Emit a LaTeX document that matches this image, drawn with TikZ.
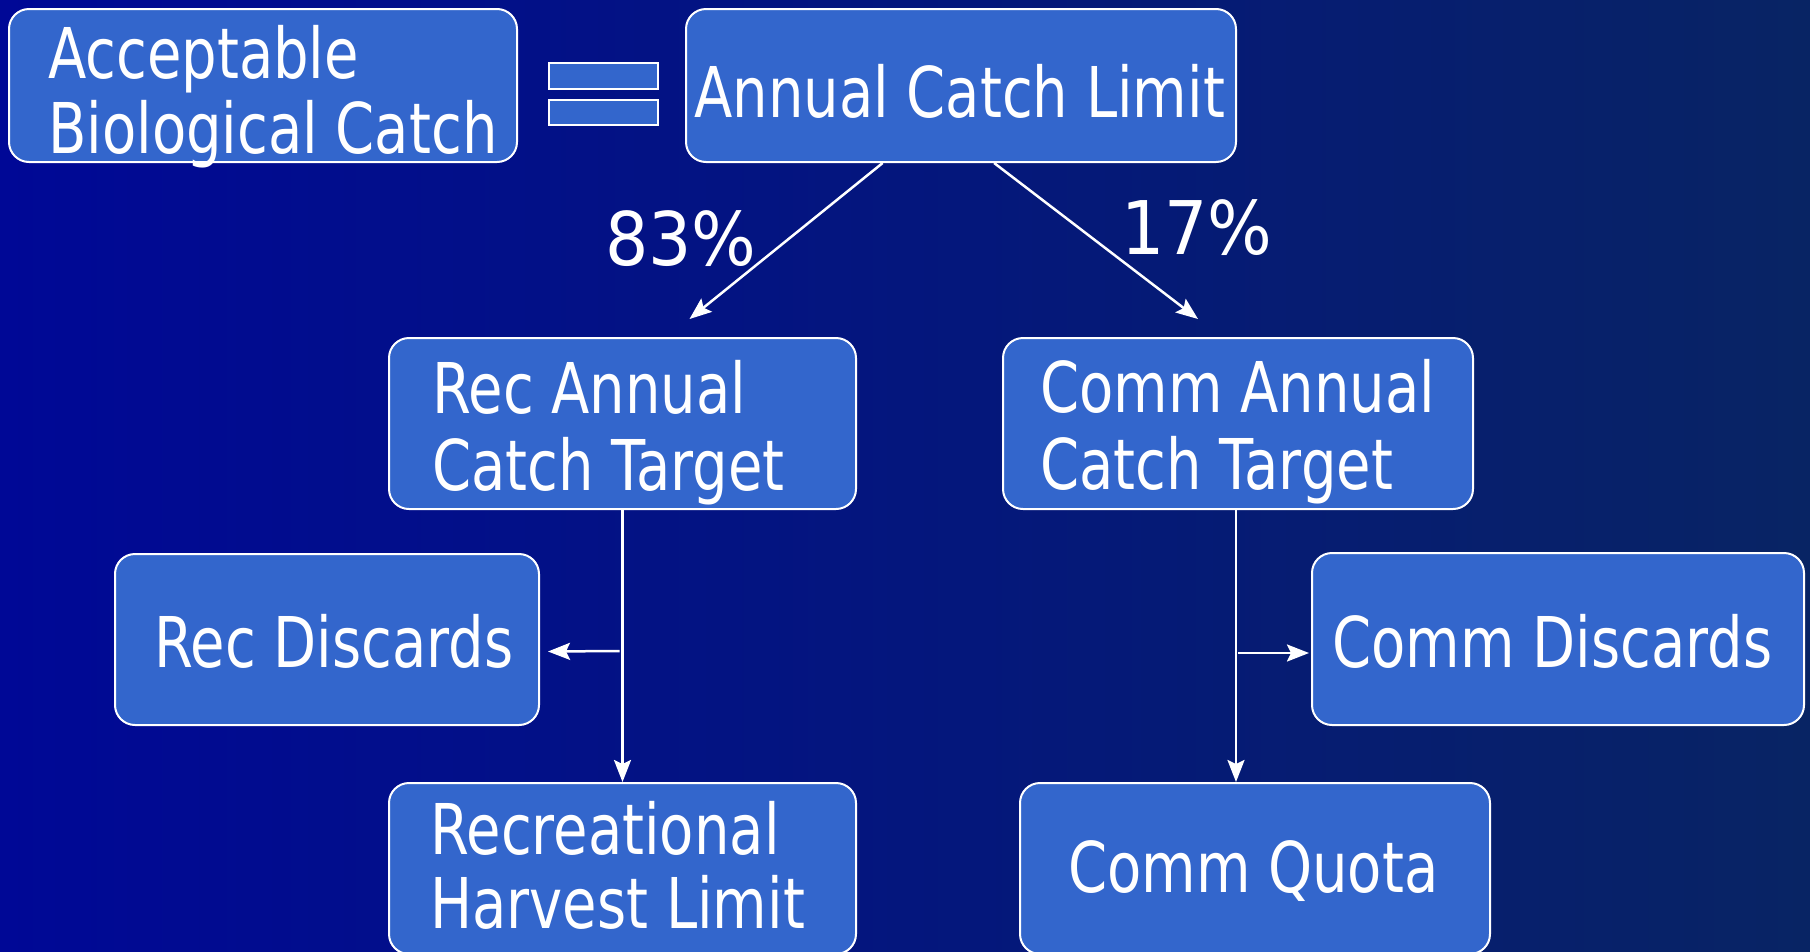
\documentclass[tikz,border=0pt]{standalone}
\usepackage{fontspec}
\usetikzlibrary{calc,arrows.meta}
\newfontfamily\tah[FakeStretch=0.8]{DejaVu Sans}
\newfontfamily\tahB[FakeStretch=0.92]{DejaVu Sans}
\definecolor{bgL}{RGB}{0,8,150}
\definecolor{bgR}{RGB}{8,36,100}
\definecolor{boxfill}{RGB}{51,102,204}
\tikzset{
  box/.style={draw=white, line width=2pt, fill=boxfill, rounded corners=20pt, inner sep=0pt},
  eqbar/.style={draw=white, line width=2pt, fill=boxfill, inner sep=0pt},
  txt/.style={text=white, inner sep=0pt, anchor=base west, font=\tah\fontsize{70}{77}\selectfont},
  pct/.style={text=white, inner sep=0pt, anchor=base west, font=\tahB\fontsize{74}{80}\selectfont},
  arr/.style={draw=white, line width=2.5pt, -{Stealth[length=22pt,width=17pt,inset=4pt]}}
}
\begin{document}
\begin{tikzpicture}[x=1pt,y=-1pt]
\useasboundingbox (0,0) rectangle (1810,951);
\shade[left color=bgL, right color=bgR] (0,0) rectangle (1810,951);

% boxes
\node[box, minimum width=508pt, minimum height=153pt] (abc)  at (263,85.5) {};
\node[box, minimum width=550pt, minimum height=153pt] (acl)  at (961,85.5) {};
\node[box, minimum width=467pt, minimum height=171pt] (ract) at (622.5,423.5) {};
\node[box, minimum width=470pt, minimum height=171pt] (cact) at (1238,423.5) {};
\node[box, minimum width=424pt, minimum height=171pt] (rdis) at (327,639.5) {};
\node[box, minimum width=492pt, minimum height=172pt] (cdis) at (1558,639) {};
\node[box, minimum width=467pt, minimum height=171pt] (rhl)  at (622.5,868.5) {};
\node[box, minimum width=470pt, minimum height=171pt] (cq)   at (1255,868.5) {};

% equals sign
\node[eqbar, minimum width=109pt, minimum height=26pt] (eq1) at (603.5,76) {};
\node[eqbar, minimum width=109pt, minimum height=25pt] (eq2) at (603.5,112.5) {};

% texts
\node[txt] (abc1) at (48,78) {Acceptable};
\node[txt] (abc2) at (48,153) {Biological Catch};
\node[txt] (acl1) at (694,117) {Annual Catch Limit};
\node[txt] (ract1) at (432,413) {Rec Annual};
\node[txt] (ract2) at (432,490) {Catch Target};
\node[txt] (cact1) at (1040,412) {Comm Annual};
\node[txt] (cact2) at (1040,489) {Catch Target};
\node[txt] (rdis1) at (154,667) {Rec Discards};
\node[txt] (cdis1) at (1332,667) {Comm Discards};
\node[txt] (rhl1) at (430,854) {Recreational};
\node[txt] (rhl2) at (430,928) {Harvest Limit};
\node[txt] (cq1) at (1068,892) {Comm Quota};

\node[pct] (p83) at (605,265) {83\%};
\node[pct] (p17) at (1121,254) {17\%};

% connectors
\draw[arr] ($(acl.south west)!0.358!(acl.south east)$) -- ($(ract.north)+(67,-18)$);
\draw[arr] ($(acl.south west)!0.56!(acl.south east)$) -- ($(cact.north)+(-40,-18)$);
\draw[arr] (ract.south) -- (rhl.north);
\draw[arr] ($(cact.south)+(-2,0)$) -- ($(cq.north)+(-19,0)$);
\coordinate (rsplit) at ($(ract.south)+(-3,141)$);
\coordinate (csplit) at ($(cact.south)+(0,143)$);
\draw[arr] (rsplit) -- ($(rdis.east)+(8,12)$);
\draw[arr] (csplit) -- ($(cdis.west)+(-2,14)$);
\end{tikzpicture}
\end{document}
